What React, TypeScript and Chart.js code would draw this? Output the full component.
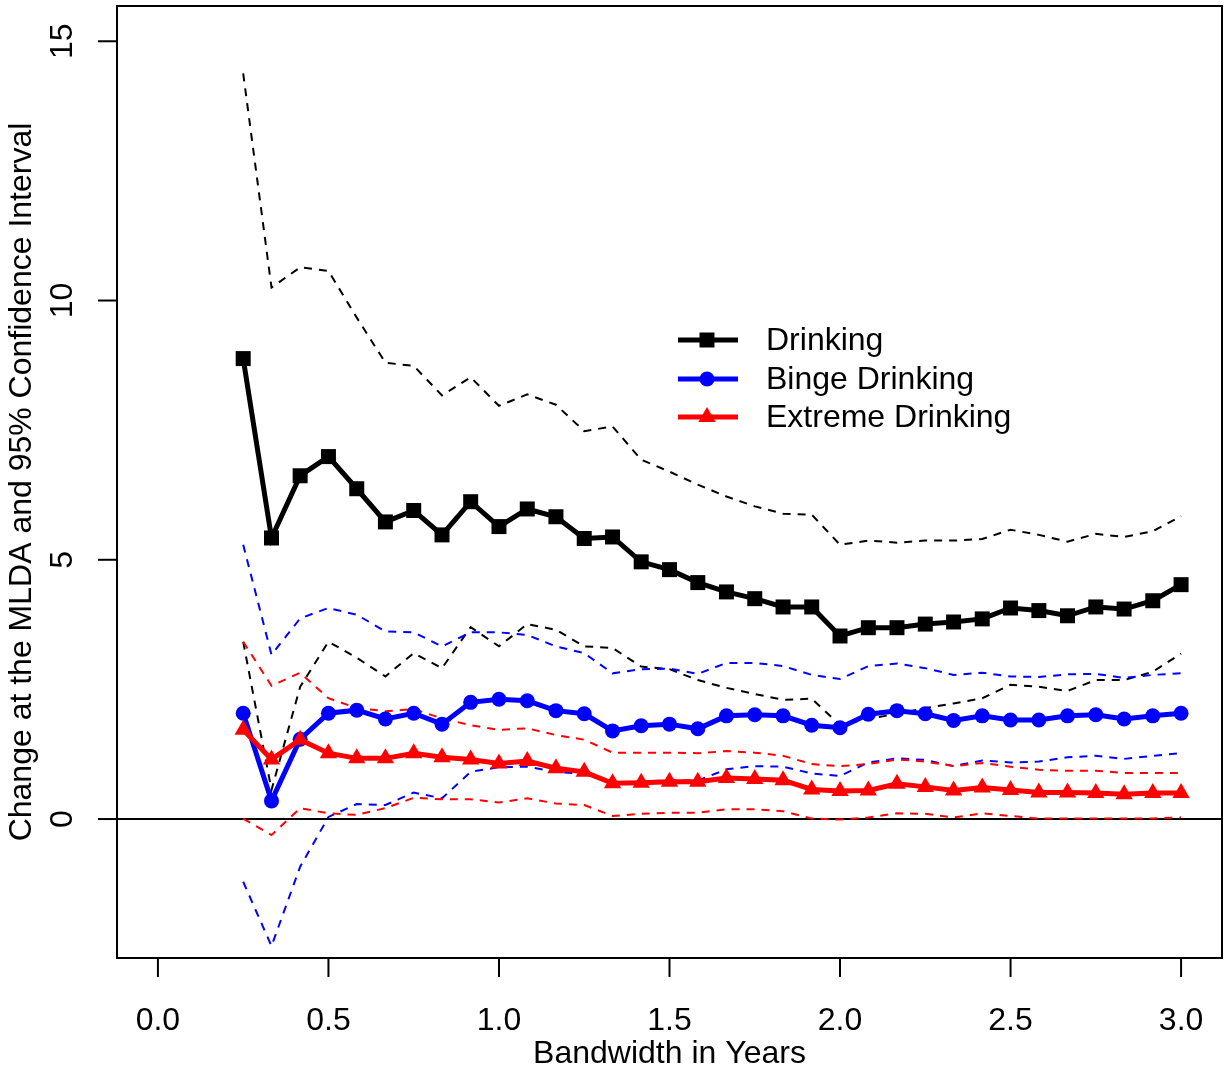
import React, { useEffect, useRef } from "react";
import { Chart, registerables } from "chart.js";

Chart.register(...registerables);

// Bandwidth (years)
const bandwidth = [
  0.25, 0.333, 0.417, 0.5, 0.583, 0.667, 0.75, 0.833, 0.917, 1.0, 1.083, 1.167,
  1.25, 1.333, 1.417, 1.5, 1.583, 1.667, 1.75, 1.833, 1.917, 2.0, 2.083, 2.167,
  2.25, 2.333, 2.417, 2.5, 2.583, 2.667, 2.75, 2.833, 2.917, 3.0,
];

// Drinking
const drinking = [
  8.88, 5.42, 6.62, 6.99, 6.37, 5.73, 5.95, 5.48, 6.12, 5.64, 5.98, 5.83,
  5.41, 5.44, 4.96, 4.81, 4.56, 4.38, 4.25, 4.09, 4.09, 3.53, 3.69, 3.69,
  3.76, 3.8, 3.86, 4.07, 4.02, 3.92, 4.09, 4.05, 4.21, 4.52,
];
const drinkingUpper = [
  14.38, 10.25, 10.64, 10.57, 9.67, 8.8, 8.74, 8.17, 8.52, 7.97, 8.19, 7.99,
  7.48, 7.57, 6.93, 6.7, 6.45, 6.22, 6.03, 5.89, 5.87, 5.29, 5.37, 5.33,
  5.37, 5.37, 5.4, 5.58, 5.48, 5.35, 5.5, 5.44, 5.55, 5.84,
];
const drinkingLower = [
  3.42, 0.56, 2.55, 3.42, 3.11, 2.75, 3.2, 2.91, 3.7, 3.33, 3.76, 3.65,
  3.33, 3.3, 2.94, 2.89, 2.68, 2.53, 2.41, 2.3, 2.32, 1.81, 1.93, 2.03,
  2.14, 2.23, 2.33, 2.59, 2.55, 2.47, 2.68, 2.68, 2.84, 3.19,
];

// Binge drinking
const binge = [
  2.04, 0.35, 1.54, 2.04, 2.1, 1.93, 2.04, 1.83, 2.25, 2.31, 2.28, 2.09,
  2.03, 1.7, 1.8, 1.83, 1.74, 1.99, 2.01, 1.99, 1.81, 1.76, 2.02, 2.09,
  2.03, 1.9, 1.99, 1.91, 1.91, 1.99, 2.01, 1.93, 1.99, 2.04,
];
const bingeUpper = [
  5.29, 3.17, 3.87, 4.07, 3.94, 3.62, 3.6, 3.33, 3.6, 3.6, 3.55, 3.33,
  3.2, 2.81, 2.89, 2.9, 2.8, 3.01, 3.01, 2.95, 2.78, 2.7, 2.95, 3.0,
  2.91, 2.78, 2.82, 2.75, 2.74, 2.79, 2.8, 2.72, 2.78, 2.81,
];
const bingeLower = [
  -1.21, -2.45, -0.92, 0.04, 0.29, 0.27, 0.51, 0.4, 0.91, 1.0, 1.01, 0.91,
  0.87, 0.69, 0.72, 0.75, 0.74, 0.96, 1.02, 1.01, 0.88, 0.83, 1.09, 1.17,
  1.14, 1.02, 1.13, 1.09, 1.11, 1.19, 1.22, 1.16, 1.22, 1.27,
];

// Extreme drinking
const extreme = [
  1.72, 1.15, 1.53, 1.27, 1.17, 1.17, 1.27, 1.19, 1.15, 1.07, 1.12, 0.98,
  0.91, 0.69, 0.7, 0.72, 0.72, 0.79, 0.77, 0.75, 0.57, 0.54, 0.55, 0.68,
  0.62, 0.55, 0.61, 0.56, 0.51, 0.51, 0.5, 0.48, 0.5, 0.5,
];
const extremeUpper = [
  3.42, 2.57, 2.82, 2.33, 2.14, 2.08, 2.12, 1.94, 1.81, 1.72, 1.75, 1.62,
  1.53, 1.28, 1.28, 1.28, 1.27, 1.31, 1.28, 1.22, 1.06, 1.02, 1.06, 1.15,
  1.11, 1.02, 1.08, 1.01, 0.95, 0.93, 0.93, 0.89, 0.89, 0.89,
];
const extremeLower = [
  0.01, -0.31, 0.21, 0.11, 0.08, 0.21, 0.41, 0.38, 0.38, 0.32, 0.4, 0.3,
  0.27, 0.06, 0.1, 0.12, 0.12, 0.19, 0.19, 0.15, 0.01, -0.01, 0.03, 0.11,
  0.1, 0.03, 0.11, 0.06, 0.01, 0.01, 0.01, 0.01, 0.01, 0.03,
];

const seriesNames = ["Drinking", "Binge Drinking", "Extreme Drinking"];
const xTicks = [0, 0.5, 1, 1.5, 2, 2.5, 3];
const xTickLabels = ["0.0", "0.5", "1.0", "1.5", "2.0", "2.5", "3.0"];
const yTicks = [0, 5, 10, 15];
const yTickLabels = ["0", "5", "10", "15"];
const xTitle = "Bandwidth in Years";
const yTitle = "Change at the MLDA and 95% Confidence Interval";

const FONT = '"Liberation Sans", Arial, Helvetica, sans-serif';
const BLACK = "#000000";
const BLUE = "#0000FF";
const RED = "#FF0000";

const toPoints = (ys: number[]) => bandwidth.map((x, i) => ({ x, y: ys[i] }));

const dashed = (label: string, ys: number[], color: string, order: number) => ({
  label,
  data: toPoints(ys),
  borderColor: color,
  borderWidth: 2,
  borderDash: [8, 7],
  pointRadius: 0,
  fill: false,
  tension: 0,
  order,
});

const axesPlugin = {
  id: "rAxes",
  beforeDatasetsDraw(chart: any) {
    const { ctx, chartArea, scales } = chart;
    const y0 = scales.y.getPixelForValue(0);
    ctx.save();
    ctx.strokeStyle = BLACK;
    ctx.lineWidth = 2;
    ctx.beginPath();
    ctx.moveTo(chartArea.left, y0);
    ctx.lineTo(chartArea.right, y0);
    ctx.stroke();
    ctx.restore();
  },
  afterDraw(chart: any) {
    const { ctx, chartArea, scales } = chart;
    const { left, right, top, bottom } = chartArea;
    ctx.save();
    ctx.strokeStyle = BLACK;
    ctx.fillStyle = BLACK;
    ctx.lineWidth = 2;
    ctx.strokeRect(left, top, right - left, bottom - top);

    ctx.font = `32px ${FONT}`;
    // x ticks
    ctx.textAlign = "center";
    ctx.textBaseline = "middle";
    xTicks.forEach((v, i) => {
      const px = scales.x.getPixelForValue(v);
      ctx.beginPath();
      ctx.moveTo(px, bottom);
      ctx.lineTo(px, bottom + 19);
      ctx.stroke();
      ctx.fillText(xTickLabels[i], px, 1021);
    });
    // y ticks
    yTicks.forEach((v, i) => {
      const py = scales.y.getPixelForValue(v);
      ctx.beginPath();
      ctx.moveTo(left, py);
      ctx.lineTo(left - 19, py);
      ctx.stroke();
      ctx.save();
      ctx.translate(63, py);
      ctx.rotate(-Math.PI / 2);
      ctx.fillText(yTickLabels[i], 0, 0);
      ctx.restore();
    });
    // titles
    ctx.fillText(xTitle, (left + right) / 2, 1054);
    ctx.save();
    ctx.translate(22, (top + bottom) / 2);
    ctx.rotate(-Math.PI / 2);
    ctx.fillText(yTitle, 0, 0);
    ctx.restore();

    // legend
    const colors = [BLACK, BLUE, RED];
    const rows = [340, 379, 417];
    rows.forEach((ly, i) => {
      ctx.strokeStyle = colors[i];
      ctx.fillStyle = colors[i];
      ctx.lineWidth = 5;
      ctx.beginPath();
      ctx.moveTo(678, ly);
      ctx.lineTo(738, ly);
      ctx.stroke();
      const mx = 707;
      ctx.beginPath();
      if (i === 0) {
        ctx.rect(mx - 7.5, ly - 7.5, 15, 15);
      } else if (i === 1) {
        ctx.arc(mx, ly, 7.5, 0, Math.PI * 2);
      } else {
        const r = 10;
        ctx.moveTo(mx, ly - r);
        ctx.lineTo(mx + r * Math.sin((2 * Math.PI) / 3), ly - r * Math.cos((2 * Math.PI) / 3));
        ctx.lineTo(mx + r * Math.sin((4 * Math.PI) / 3), ly - r * Math.cos((4 * Math.PI) / 3));
        ctx.closePath();
      }
      ctx.fill();
      ctx.fillStyle = BLACK;
      ctx.textAlign = "left";
      ctx.textBaseline = "middle";
      ctx.font = `32px ${FONT}`;
      ctx.fillText(seriesNames[i], 766, ly + 1);
    });
    ctx.restore();
  },
};

export default function App() {
  const ref = useRef<HTMLCanvasElement | null>(null);
  useEffect(() => {
    if (!ref.current) return;
    const chart = new Chart(ref.current, {
      type: "line",
      data: {
        datasets: [
          {
            label: seriesNames[2],
            data: toPoints(extreme),
            borderColor: RED,
            backgroundColor: RED,
            borderWidth: 5,
            pointStyle: "triangle",
            pointRadius: 10,
            pointBorderWidth: 0,
            pointBackgroundColor: RED,
            tension: 0,
            order: 0,
          },
          {
            label: seriesNames[1],
            data: toPoints(binge),
            borderColor: BLUE,
            backgroundColor: BLUE,
            borderWidth: 5,
            pointStyle: "circle",
            pointRadius: 7.5,
            pointBorderWidth: 0,
            pointBackgroundColor: BLUE,
            tension: 0,
            order: 1,
          },
          {
            label: seriesNames[0],
            data: toPoints(drinking),
            borderColor: BLACK,
            backgroundColor: BLACK,
            borderWidth: 5,
            pointStyle: "rect",
            pointRadius: 10.6,
            pointBorderWidth: 0,
            pointBackgroundColor: BLACK,
            tension: 0,
            order: 2,
          },
          dashed("Extreme upper", extremeUpper, RED, 3),
          dashed("Extreme lower", extremeLower, RED, 4),
          dashed("Binge upper", bingeUpper, BLUE, 5),
          dashed("Binge lower", bingeLower, BLUE, 6),
          dashed("Drinking upper", drinkingUpper, BLACK, 7),
          dashed("Drinking lower", drinkingLower, BLACK, 8),
        ] as any,
      },
      options: {
        responsive: false,
        animation: false,
        events: [],
        layout: { autoPadding: false, padding: { left: 117, right: 6, top: 6, bottom: 111 } },
        plugins: { legend: { display: false }, tooltip: { enabled: false } },
        scales: {
          x: { type: "linear", min: -0.12, max: 3.12, display: false },
          y: { type: "linear", min: -2.68, max: 15.68, display: false },
        },
      },
      plugins: [axesPlugin],
    });
    return () => chart.destroy();
  }, []);
  return (
    <div style={{ position: "absolute", left: 0, top: 0, width: 1228, height: 1069, background: "#fff" }}>
      <canvas ref={ref} width={1228} height={1069} style={{ display: "block" }} />
    </div>
  );
}
